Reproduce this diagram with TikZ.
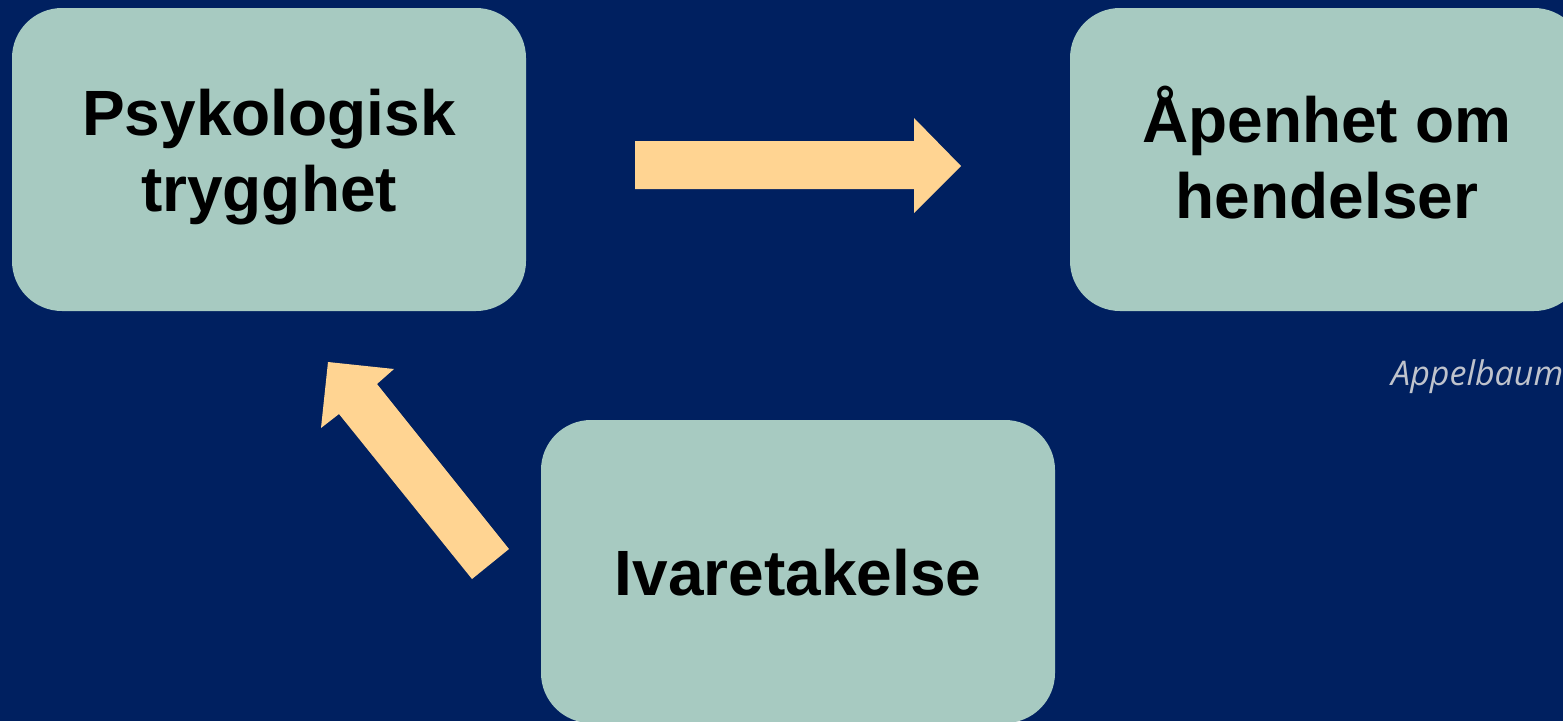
\documentclass[tikz,border=0pt]{standalone}
\usepackage{fontspec}
\setmainfont{Liberation Sans}
\newfontfamily\notefont{Open Sans}
\definecolor{navy}{HTML}{002060}
\definecolor{boxfill}{HTML}{A7CAC1}
\definecolor{arrowfill}{HTML}{FFD492}
\definecolor{notegray}{HTML}{BFC3CC}
\begin{document}
\begin{tikzpicture}[x=1pt,y=-1pt,
  box/.style={fill=boxfill, draw=none, rounded corners=50pt, minimum width=514pt, minimum height=303pt, inner sep=0pt},
  boxtext/.style={align=center, font=\fontsize{64}{76}\selectfont\bfseries, text=black, inner sep=0pt},
  blockarrow/.style={fill=arrowfill, draw=none}]
\useasboundingbox[fill=navy] (0,0) rectangle (1563,721);
% boxes
\node[box] (psyk) at (269,159.5) {};
\node[boxtext] (psyktxt) at (269,157) {Psykologisk\\trygghet};
\node[box] (apen) at (1327,159.5) {};
\node[boxtext] (apentxt) at (1327,153) {Åpenhet om\\hendelser};
\node[box] (ivar) at (798,571.5) {};
\node[boxtext] (ivartxt) at (798,573) {Ivaretakelse};
% block arrows
\fill[blockarrow] (635,141) -- (914,141) -- (914,118) -- (961,166) -- (914,213) -- (914,189) -- (635,189) -- cycle;
\fill[blockarrow] (509,549) -- (377,384) -- (394,369) -- (328,362) -- (321,428) -- (339,414) -- (472,579) -- cycle;
% note
\node[anchor=base west, inner sep=0pt, font=\notefont\itshape\fontsize{34}{40}\selectfont, text=notegray] (note) at (1391,385) {Appelbaum};
\end{tikzpicture}
\end{document}
